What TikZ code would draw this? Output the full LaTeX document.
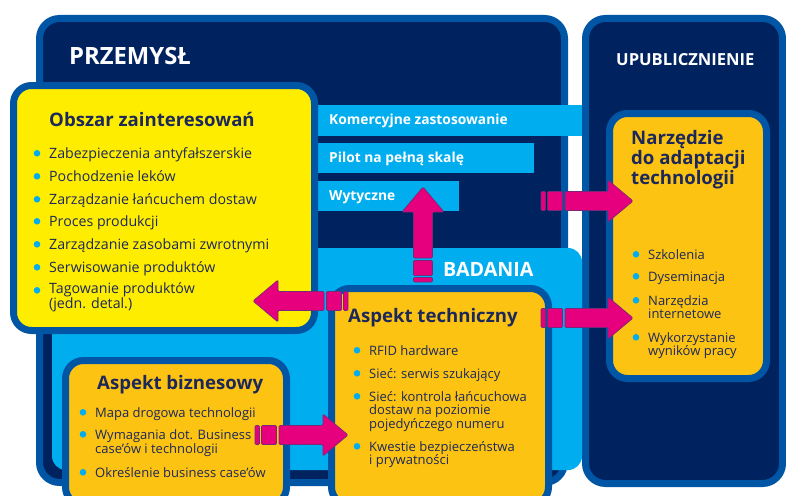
\documentclass[tikz,border=0pt]{standalone}
\usepackage{fontspec}
\setmainfont{Open Sans}
\usepackage{xcolor}
\usepackage{tikz}
\usetikzlibrary{positioning}

\definecolor{navybg}{RGB}{0,35,96}
\definecolor{frameblue}{RGB}{0,86,164}
\definecolor{skyblue}{RGB}{0,174,239}
\definecolor{lemon}{RGB}{255,237,0}
\definecolor{amber}{RGB}{253,195,18}
\definecolor{hotpink}{RGB}{230,0,126}
\definecolor{plum}{RGB}{120,40,120}
\definecolor{ink}{RGB}{28,40,90}

% block arrow: tail point, rotation, length
\newcommand{\pinkarrow}[3]{%
  \begin{scope}[shift={#1}, rotate=#2]
    \draw[piece] (0,-9.5) rectangle (4.5,9.5);
    \draw[piece] (6.5,-9.5) rectangle (21.5,9.5);
    \draw[piece] (24,-9.5) -- (#3-25,-9.5) -- (#3-25,-21) -- (#3,0)
      -- (#3-25,21) -- (#3-25,9.5) -- (24,9.5) -- cycle;
  \end{scope}}

\begin{document}
\begin{tikzpicture}[
    x=1pt, y=-1pt,
    panel/.style={draw=frameblue, line width=7pt, rounded corners=20pt},
    band/.style={fill=skyblue},
    piece/.style={fill=hotpink, draw=plum, line width=0.7pt, rounded corners=1.2pt},
    head/.style={font=\bfseries\fontsize{23.8}{25}\selectfont, text=white, anchor=base west, inner sep=0pt},
    title/.style={font=\bfseries\fontsize{18.6}{20}\selectfont, text=ink, anchor=base west, inner sep=0pt, align=left},
    bartext/.style={font=\bfseries\fontsize{13.8}{14}\selectfont, text=white, anchor=base west, inner sep=0pt},
    item/.style={font=\fontsize{14.2}{13.5}\selectfont, text=ink, anchor=base west, inner sep=0pt, align=left},
    small/.style={item, font=\fontsize{13}{13.5}\selectfont},
    dot/.style={fill=skyblue}
]
    \useasboundingbox (0,0) rectangle (786,495);
    \clip (0,0) rectangle (786,495);

    % main columns
    \draw[panel, fill=navybg] (39.5,18.5) rectangle (564.5,482.5);
    \draw[panel, fill=navybg] (585.5,18.5) rectangle (782.5,483.5);
    \fill[band, rounded corners=14pt] (52,248) rectangle (582,470);

    \node[head] (przemysl) at (69,64) {PRZEMYSŁ};
    \node[head, font=\bfseries\fontsize{16.6}{18}\selectfont] (upub) at (616,66) {UPUBLICZNIENIE};
    \node[head, font=\bfseries\fontsize{19.7}{20}\selectfont] (badania) at (443,276) {BADANIA};

    % bars
    \fill[band] (318,105) rectangle (582,136);
    \fill[band] (318,143) rectangle (534,173);
    \fill[band] (318,181) rectangle (459,211);
    \node[bartext] (komerc) at (329,124) {Komercyjne zastosowanie};
    \node[bartext] (pilot) at (329,162) {Pilot na pełną skalę};
    \node[bartext] (wytyczne) at (329,200) {Wytyczne};

    % inner boxes
    \draw[panel, fill=lemon, rounded corners=18pt] (13.5,85.5) rectangle (314.5,330.5);
    \draw[panel, fill=amber, rounded corners=18pt] (331.5,288.5) rectangle (548.5,505);
    \draw[panel, fill=amber, rounded corners=18pt] (65.5,360.5) rectangle (286.5,505);
    \draw[panel, fill=amber, rounded corners=18pt] (609.5,113.5) rectangle (766.5,378.5);

    \node[title] (obszar) at (49,126) {Obszar zainteresowań};
    \node[title] (techniczny) at (348,322) {Aspekt techniczny};
    \node[title] (biznesowy) at (97,389) {Aspekt biznesowy};
    \node[title] (narzedzie) at (631,184) {Narzędzie\\do adaptacji\\technologii};

    % first baseline / last baseline / text
    \foreach \y/\yy/\txt [count=\i] in {158/158/{Zabezpieczenia antyfałszerskie}, 181/181/{Pochodzenie leków},
        204/204/{Zarządzanie łańcuchem dostaw}, 226/226/{Proces produkcji}, 249/249/{Zarządzanie zasobami zwrotnymi},
        272/272/{Serwisowanie produktów}, 295/308.5/{Tagowanie produktów\\(jedn. detal.)}} {
        \fill[dot] (37,\y-4.7) circle (3.3);
        \node[item] (obszar-\i) at (49,\yy) {\txt};
    }
    \foreach \y/\yy/\txt [count=\i] in {355/355/{RFID hardware}, 378/378/{Sieć: serwis szukający},
        401/428/{Sieć: kontrola łańcuchowa\\dostaw na poziomie\\pojedyńczego numeru},
        451/464.5/{Kwestie bezpieczeństwa\\i prywatności}} {
        \fill[dot] (357,\y-4.7) circle (3.3);
        \node[small] (tech-\i) at (369,\yy) {\txt};
    }
    \foreach \y/\yy/\txt [count=\i] in {417/417/{Mapa drogowa technologii},
        439/453/{Wymagania dot. Business\\case’ów i technologii}, 477/477/{Określenie business case’ów}} {
        \fill[dot] (83,\y-4.7) circle (3.3);
        \node[small] (bizn-\i) at (95,\yy) {\txt};
    }
    \foreach \y/\yy/\txt [count=\i] in {259/259/{Szkolenia}, 281/281/{Dyseminacja},
        305/318.5/{Narzędzia\\internetowe}, 342/355.5/{Wykorzystanie\\wyników pracy}} {
        \fill[dot] (636,\y-4.7) circle (3.3);
        \node[small] (narz-\i) at (648,\yy) {\txt};
    }

    % arrows
    \pinkarrow{(423,282)}{90}{95}
    \pinkarrow{(348,301)}{180}{95}
    \pinkarrow{(541,201)}{0}{92}
    \pinkarrow{(541,318)}{0}{92}
    \pinkarrow{(255,435)}{0}{93}
\end{tikzpicture}
\end{document}
